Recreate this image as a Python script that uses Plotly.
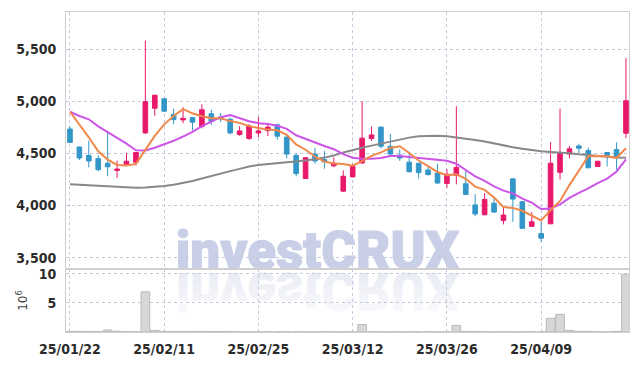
import base64
import pandas as pd
import plotly.graph_objects as go

dates = ["25/01/22", "25/01/23", "25/01/24", "25/01/31", "25/02/03", "25/02/04", "25/02/05", "25/02/06",
         "25/02/07", "25/02/10", "25/02/11", "25/02/12", "25/02/13", "25/02/14", "25/02/17", "25/02/18",
         "25/02/19", "25/02/20", "25/02/21", "25/02/24", "25/02/25", "25/02/26", "25/02/27", "25/02/28",
         "25/03/04", "25/03/05", "25/03/06", "25/03/07", "25/03/10", "25/03/11", "25/03/12", "25/03/13",
         "25/03/14", "25/03/17", "25/03/18", "25/03/19", "25/03/20", "25/03/21", "25/03/24", "25/03/25",
         "25/03/26", "25/03/27", "25/03/28", "25/03/31", "25/04/01", "25/04/02", "25/04/03", "25/04/04",
         "25/04/07", "25/04/08", "25/04/09", "25/04/10", "25/04/11", "25/04/14", "25/04/15", "25/04/16",
         "25/04/17", "25/04/18", "25/04/21", "25/04/22"]

open_ = [4734, 4562, 4481, 4450, 4406, 4337, 4391, 4416, 4697, 4934, 5025, 4875, 4822, 4844, 4759, 4881,
         4850, 4828, 4681, 4644, 4697, 4719, 4775, 4656, 4481, 4259, 4494, 4441, 4381, 4138, 4275, 4409,
         4644, 4753, 4569, 4484, 4416, 4406, 4341, 4312, 4212, 4291, 4209, 4006, 3912, 4022, 3856, 4256,
         4037, 3800, 3731, 3825, 4319, 4494, 4572, 4528, 4375, 4509, 4537, 4694]
high = [4759, 4565, 4625, 4484, 4700, 4431, 4506, 4512, 5584, 5062, 5025, 4931, 4944, 4844, 4972, 4919,
        4888, 4844, 4762, 4781, 4850, 4794, 4787, 4680, 4500, 4462, 4553, 4525, 4462, 4338, 4400, 5000,
        4759, 4753, 4688, 4538, 4516, 4410, 4375, 4400, 4350, 4953, 4334, 4109, 4119, 4075, 3984, 4256,
        4040, 3937, 3844, 4609, 4931, 4572, 4594, 4556, 4430, 4509, 4606, 5416]
low = [4600, 4437, 4366, 4328, 4281, 4266, 4384, 4384, 4688, 4862, 4900, 4781, 4791, 4719, 4741, 4775,
       4803, 4681, 4669, 4631, 4656, 4666, 4631, 4453, 4281, 4255, 4400, 4353, 4369, 4130, 4270, 4400,
       4619, 4547, 4488, 4428, 4316, 4259, 4288, 4210, 4169, 4203, 4100, 3897, 3905, 3930, 3819, 3844,
       3778, 3795, 3650, 3820, 4250, 4453, 4500, 4360, 4370, 4375, 4344, 4647]
close = [4606, 4456, 4428, 4344, 4372, 4350, 4425, 4509, 4997, 5059, 4906, 4825, 4837, 4800, 4919, 4806,
         4831, 4697, 4716, 4762, 4716, 4753, 4666, 4494, 4306, 4459, 4428, 4419, 4406, 4281, 4375, 4647,
         4678, 4569, 4494, 4456, 4325, 4316, 4297, 4216, 4300, 4366, 4106, 3919, 4059, 3937, 3909, 4062,
         3781, 3844, 3687, 4406, 4500, 4544, 4550, 4362, 4425, 4484, 4469, 5006]

# volume in millions (10^6)
volume = [0.10, 0.10, 0.08, 0.05, 0.34, 0.12, 0.04, 0.04, 6.90, 0.28, 0.10, 0.08, 0.08, 0.08, 0.10, 0.08,
          0.08, 0.08, 0.03, 0.03, 0.03, 0.03, 0.03, 0.03, 0.03, 0.03, 0.03, 0.03, 0.03, 0.03, 0.03, 1.29,
          0.04, 0.03, 0.03, 0.03, 0.03, 0.03, 0.03, 0.03, 0.03, 1.12, 0.10, 0.08, 0.03, 0.03, 0.03, 0.03,
          0.03, 0.03, 0.03, 2.36, 3.03, 0.28, 0.10, 0.10, 0.03, 0.03, 0.10, 9.90]

# leading moving-average values (depend on earlier, unseen days)
ma5_head = [4900, 4780, 4655, 4520]
ma10_head = [4900, 4860, 4828, 4760, 4705, 4650, 4594, 4531, 4528]
ma60 = [4205, 4200, 4195, 4190, 4185, 4180, 4175, 4170, 4172, 4178, 4188, 4200, 4215, 4235, 4260, 4285,
        4310, 4330, 4352, 4375, 4390, 4400, 4408, 4415, 4422, 4430, 4445, 4460, 4480, 4510, 4535, 4555,
        4575, 4595, 4615, 4635, 4652, 4665, 4670, 4670, 4665, 4655, 4645, 4630, 4615, 4595, 4578, 4560,
        4545, 4530, 4522, 4515, 4510, 4502, 4492, 4483, 4475, 4468, 4462, 4458]

tick_dates = ["25/01/22", "25/02/11", "25/02/25", "25/03/12", "25/03/26", "25/04/09"]
price_ticks = [3500, 4000, 4500, 5000, 5500]
vol_ticks = [5, 10]

cs = pd.Series(close, dtype=float)
ma5 = list(ma5_head) + cs.rolling(5).mean().tolist()[len(ma5_head):]
ma10 = list(ma10_head) + cs.rolling(10).mean().tolist()[len(ma10_head):]

UP = "#e8196b"
DOWN = "#3396c8"
GRID = "#c6c9dd"
FONT = dict(family="Liberation Sans Narrow, DejaVu Sans Condensed, Roboto", size=14, color="#2b2b2b", weight="bold")

fig = go.Figure()
fig.add_trace(go.Bar(x=dates, y=volume, xaxis="x", yaxis="y",
                     marker=dict(color="#d7d7d7", line=dict(color="#b9b9b9", width=1)),
                     showlegend=False))
fig.add_trace(go.Candlestick(x=dates, open=open_, high=high, low=low, close=close,
                             xaxis="x2", yaxis="y2", whiskerwidth=0,
                             increasing=dict(line=dict(color=UP, width=1), fillcolor=UP),
                             decreasing=dict(line=dict(color=DOWN, width=1), fillcolor=DOWN),
                             showlegend=False))
fig.add_trace(go.Scatter(x=dates, y=ma60, mode="lines", xaxis="x2", yaxis="y2",
                         line=dict(color="#888888", width=2), showlegend=False))
fig.add_trace(go.Scatter(x=dates, y=ma10, mode="lines", xaxis="x2", yaxis="y2",
                         line=dict(color="#cc55e8", width=2), showlegend=False))
fig.add_trace(go.Scatter(x=dates, y=ma5, mode="lines", xaxis="x2", yaxis="y2",
                         line=dict(color="#f0884c", width=2), showlegend=False))

W, H = 639, 366
ML, MR, MT, MB = 66, 9, 10, 29
PW, PH = W - ML - MR, H - MT - MB
VOL_TOP = 0.197

svg = f'''<svg xmlns="http://www.w3.org/2000/svg" width="{W}" height="{H}" viewBox="0 0 {W} {H}">
<defs><linearGradient id="g" x1="0" y1="0" x2="0" y2="1">
<stop offset="0" stop-color="#e3e6f1" stop-opacity="0.1"/>
<stop offset="1" stop-color="#e3e6f1" stop-opacity="0.95"/></linearGradient></defs>
<text x="176" y="273" textLength="284" lengthAdjust="spacingAndGlyphs" font-family="Roboto, Open Sans, sans-serif" font-weight="900" font-size="54" fill="#c8cfe7" stroke="#c8cfe7" stroke-width="1.2">investCRUX</text>
<g transform="translate(0,550) scale(1,-1)"><text x="176" y="273" textLength="284" lengthAdjust="spacingAndGlyphs" font-family="Roboto, Open Sans, sans-serif" font-weight="900" font-size="54" fill="url(#g)">investCRUX</text></g>
</svg>'''
src = "data:image/svg+xml;base64," + base64.b64encode(svg.encode()).decode()

axis_common = dict(showline=True, linecolor="#cfcfcf", linewidth=1, mirror=True,
                   showgrid=True, gridcolor=GRID, griddash="dot", gridwidth=1, zeroline=False)

fig.update_layout(
    width=W, height=H,
    margin=dict(l=ML, r=MR, t=MT, b=MB),
    paper_bgcolor="white", plot_bgcolor="rgba(0,0,0,0)",
    bargap=0.08,
    images=[dict(source=src, xref="paper", yref="paper",
                 x=-ML / PW, y=1 + MT / PH, sizex=W / PW, sizey=H / PH,
                 xanchor="left", yanchor="top", sizing="stretch", layer="below")],
    xaxis=dict(domain=[0, 1], anchor="y", type="category", range=[-0.42, 59.32],
               tickmode="array", tickvals=tick_dates, ticktext=tick_dates,
               tickfont=FONT, ticks="", ticklabelstandoff=4, **axis_common),
    xaxis2=dict(domain=[0, 1], anchor="y2", matches="x", type="category",
                tickmode="array", tickvals=tick_dates, showticklabels=False,
                rangeslider=dict(visible=False), ticks="", **axis_common),
    yaxis=dict(domain=[0, VOL_TOP], anchor="x", range=[0, 10.82], tickmode="array",
               tickvals=vol_ticks, ticktext=[str(v) for v in vol_ticks], tickfont=FONT,
               ticks="", ticklabelstandoff=6,
               title=dict(text="10<sup>6</sup>", font=dict(family="DejaVu Sans", size=12, color="#444444"),
                          standoff=8),
               **axis_common),
    yaxis2=dict(domain=[VOL_TOP, 1], anchor="x2", range=[3391, 5858], tickmode="array",
                tickvals=price_ticks, tickformat=",", tickfont=FONT, ticks="", ticklabelstandoff=6,
                **axis_common),
)

fig.write_html("out.html")
